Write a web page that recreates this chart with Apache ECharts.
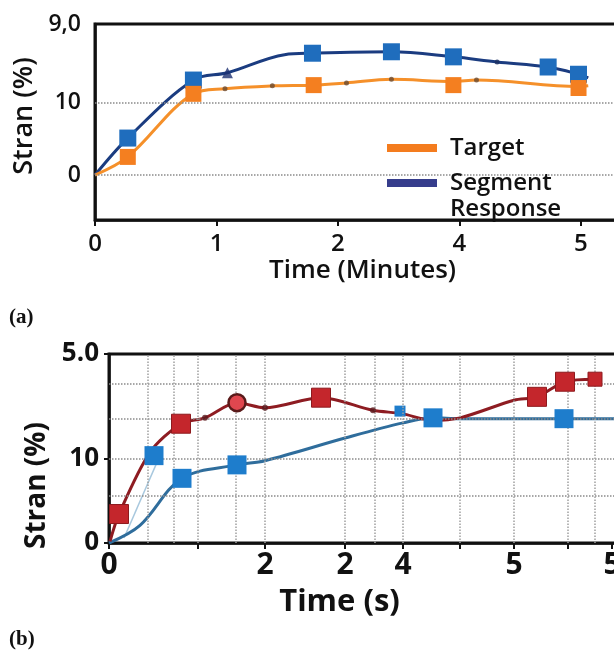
<!DOCTYPE html>
<html>
<head>
<meta charset="utf-8">
<script src="https://cdn.jsdelivr.net/npm/echarts@6/dist/echarts.min.js"></script>
<style>
html,body{margin:0;padding:0;background:#fff;overflow:hidden;width:614px;height:656px;}
#c{width:640px;height:656px;}
</style>
</head>
<body>
<div id="c"></div>
<script>
// ---------- Panel (a) ----------
const aXTickVals = [0, 1, 2, 3, 4];
const aXTickLabels = ['0', '1', '2', '4', '5'];
const aYTickVals = [0, 10, 20.83];
const aYTickLabels = ['0', '10', '9,0'];
const aGridY = [0, 10];

const aSegmentLine = [[0,0],[0.27,5.1],[0.81,13.1],[1.09,14.1],[1.56,16.6],[1.79,16.8],[2.44,17.0],[2.95,16.3],[3.31,15.6],[3.73,14.9],[3.98,13.9],[4.06,13.4]];
const aSegmentSquares = [[0.27,5.1],[0.81,13.1],[1.79,16.8],[2.44,17.0],[2.95,16.3],[3.73,14.9],[3.98,13.9]];
const aSegmentStar = [[1.09,14.1]];
const aSegmentDots = [[3.31,15.6]];

const aTargetLine = [[0,0],[0.27,2.5],[0.81,11.2],[1.07,11.9],[1.46,12.3],[1.80,12.4],[2.07,12.7],[2.44,13.2],[2.95,12.9],[3.14,13.1],[3.98,12.2],[4.06,12.3]];
const aTargetSquares = [[0.27,2.5],[0.81,11.2],[1.80,12.4],[2.95,12.4],[3.98,12.0]];
const aTargetDots = [[1.07,11.9],[1.46,12.3],[2.07,12.7],[2.44,13.2],[3.14,13.1]];

// ---------- Panel (b) ----------
const bXTickVals = [0, 1.78, 3.12, 4.72, 5.88, 7.02, 8.10, 9.18, 10.06];
const bXTickLabels = ['0', '', '2', '2', '4', '', '5', '', '5'];
const bYTickVals = [0, 10, 22.5];
const bYTickLabels = ['0', '10', '5.0'];
const bGridY = [5.6, 10, 14.8, 19.0];
const bGridX = [0.78, 1.30, 1.78, 2.54, 3.12, 4.72, 5.32, 5.88, 7.02, 8.10, 9.18, 9.72];

const bRedLine = [[0.02,0.2],[0.2,3.45],[0.82,10.8],[1.44,14.2],[1.92,14.9],[2.56,16.7],[3.12,16.1],[4.24,17.3],[5.28,15.8],[5.86,15.4],[6.46,14.6],[7.02,14.9],[8.1,17.0],[8.56,17.4],[9.12,19.2],[9.72,19.5]];
const bRedSquares = [[0.2,3.45],[1.44,14.2],[4.24,17.3],[8.56,17.4],[9.12,19.2]];
const bRedSmallSquares = [[9.72,19.5]];
const bRedCircle = [[2.56,16.7]];
const bRedDots = [[1.92,14.9],[3.12,16.1],[5.28,15.8]];

const bBlueLine = [[0,0],[0.62,2.1],[1.46,7.7],[2.56,9.3],[3.12,9.8],[4.72,12.5],[5.88,14.3],[6.48,14.9],[7.02,14.8],[9.1,14.8],[10.6,14.8]];
const bBlueSquares = [[0.9,10.4],[1.46,7.7],[2.56,9.3],[6.48,14.9],[9.1,14.8]];
const bBlueSmallSquares = [[5.82,15.7]];
const bFaintLine = [[0.3,0.6],[0.96,9.6]];

const FONT = 'Open Sans';
const lab = (vals, labels) => (v) => {
  for (let i = 0; i < vals.length; i++) if (Math.abs(vals[i] - v) < 1e-6) return labels[i];
  return '';
};
const gridMark = (axisKey, vals, color) => ({
  silent: true, symbol: ['none','none'], label: {show:false},
  lineStyle: {type: 'dotted', color: color, width: 1.5},
  emphasis: {disabled: true},
  data: vals.map(v => ({[axisKey]: v}))
});
const axLine = {show: true, onZero: false, lineStyle: {color: '#111', width: 2.5}};
const legendText = {fontFamily: FONT, fontSize: 24, fontWeight: 600, color: '#111', lineHeight: 26, padding: [0, 0, 0, 8]};

const chart = echarts.init(document.getElementById('c'), null, {renderer: 'canvas'});
chart.setOption({
  animation: false,
  backgroundColor: '#fff',
  title: [
    {text: '(a)', left: 4, top: 302, textStyle: {fontFamily: 'Liberation Serif', fontWeight: 'bold', fontSize: 21, color: '#111'}},
    {text: '(b)', left: 4, top: 624, textStyle: {fontFamily: 'Liberation Serif', fontWeight: 'bold', fontSize: 21, color: '#111'}}
  ],
  graphic: [
    {type: 'rect', left: 374, top: 128, shape: {width: 216, height: 90}, style: {fill: '#fff'}, z: 5, silent: true}
  ],
  grid: [
    {left: 95, top: 24, right: 0, bottom: 436, show: true, borderColor: '#111', borderWidth: 3, backgroundColor: 'transparent'},
    {left: 109, top: 354, right: 0, bottom: 113, show: true, borderColor: '#111', borderWidth: 3, backgroundColor: 'transparent'}
  ],
  legend: [
    {orient: 'vertical', left: 387, top: 135, z: 10, padding: 0,
     itemWidth: 50, itemHeight: 8, icon: 'rect', data: ['Target'],
     textStyle: legendText},
    {orient: 'vertical', left: 387, top: 144, z: 10, padding: 0,
     itemWidth: 50, itemHeight: 8, icon: 'rect', data: ['Segment\nResponse'],
     formatter: (name) => ' \n' + name,
     textStyle: legendText}
  ],
  xAxis: [
    {gridIndex: 0, type: 'value', min: 0, max: 4.486,
     name: 'Time (Minutes)', nameLocation: 'middle', nameGap: 38,
     nameTextStyle: {fontFamily: FONT, fontSize: 26, fontWeight: 600, color: '#111', padding: [0, 10, 0, 0]},
     axisLine: axLine, splitLine: {show: false},
     axisTick: {show: true, customValues: aXTickVals, length: 6, lineStyle: {color: '#111', width: 2}},
     axisLabel: {customValues: aXTickVals, formatter: lab(aXTickVals, aXTickLabels), margin: 12,
       fontFamily: FONT, fontSize: 24, fontWeight: 600, color: '#111'}},
    {gridIndex: 1, type: 'value', min: 0, max: 10.62,
     name: 'Time (s)', nameLocation: 'middle', nameGap: 44,
     nameTextStyle: {fontFamily: FONT, fontSize: 31, fontWeight: 'bold', color: '#111', padding: [0, 70, 0, 0]},
     axisLine: axLine, splitLine: {show: false},
     axisTick: {show: true, customValues: bXTickVals, length: 6, lineStyle: {color: '#111', width: 2}},
     axisLabel: {customValues: bXTickVals, formatter: lab(bXTickVals, bXTickLabels), margin: 7,
       fontFamily: FONT, fontSize: 30, fontWeight: 'bold', color: '#111'}}
  ],
  yAxis: [
    {gridIndex: 0, type: 'value', min: -6.2, max: 20.83,
     name: 'Stran (%)', nameLocation: 'middle', nameGap: 50, nameRotate: 90,
     nameTextStyle: {fontFamily: FONT, fontSize: 27, fontWeight: 600, color: '#111', padding: [0, 0, 0, 12]},
     axisLine: axLine, splitLine: {show: false},
     axisTick: {show: false},
     axisLabel: {customValues: aYTickVals, formatter: lab(aYTickVals, aYTickLabels), margin: 14,
       fontFamily: FONT, fontSize: 23, fontWeight: 600, color: '#111'}},
    {gridIndex: 1, type: 'value', min: 0, max: 22.5,
     name: 'Stran (%)', nameLocation: 'middle', nameGap: 57, nameRotate: 90,
     nameTextStyle: {fontFamily: FONT, fontSize: 28, fontWeight: 'bold', color: '#111', padding: [0, 74, 0, 0]},
     axisLine: axLine, splitLine: {show: false},
     axisTick: {show: true, customValues: bYTickVals, length: 5, lineStyle: {color: '#111', width: 2}},
     axisLabel: {customValues: bYTickVals, formatter: lab(bYTickVals, bYTickLabels), margin: 10,
       fontFamily: FONT, fontSize: 26, fontWeight: 'bold', color: '#111'}}
  ],
  series: [
    // gridlines (a)
    {type: 'line', xAxisIndex: 0, yAxisIndex: 0, data: [], markLine: gridMark('yAxis', aGridY, '#8a8a8a'), z: 1},
    // gridlines (b)
    {type: 'line', xAxisIndex: 1, yAxisIndex: 1, data: [], markLine: gridMark('yAxis', bGridY, '#8a8a8a'), z: 1},
    {type: 'line', xAxisIndex: 1, yAxisIndex: 1, data: [], markLine: gridMark('xAxis', bGridX, '#a0a0a0'), z: 1},

    // ---- panel (a) ----
    {name: 'Segment\nResponse', type: 'line', xAxisIndex: 0, yAxisIndex: 0, data: aSegmentLine, smooth: 0.35,
     showSymbol: false, lineStyle: {color: '#1b3c80', width: 3}, itemStyle: {color: '#363d8c'}, z: 3},
    {name: 'Target', type: 'line', xAxisIndex: 0, yAxisIndex: 0, data: aTargetLine, smooth: 0.35,
     showSymbol: false, lineStyle: {color: '#f5902a', width: 3}, itemStyle: {color: '#f47c1e'}, z: 4},
    {type: 'scatter', xAxisIndex: 0, yAxisIndex: 0, data: aSegmentSquares, symbol: 'rect', symbolSize: 17,
     itemStyle: {color: '#1f6dbd', opacity: 1}, z: 5},
    {type: 'scatter', xAxisIndex: 0, yAxisIndex: 0, data: aTargetSquares, symbol: 'rect', symbolSize: 16,
     itemStyle: {color: '#f47f20', opacity: 1}, z: 6},
    {type: 'scatter', xAxisIndex: 0, yAxisIndex: 0, data: aSegmentStar, symbol: 'triangle', symbolSize: 11,
     itemStyle: {color: '#1b2f70'}, z: 6},
    {type: 'scatter', xAxisIndex: 0, yAxisIndex: 0, data: aSegmentDots, symbol: 'circle', symbolSize: 5,
     itemStyle: {color: '#1b2f60'}, z: 6},
    {type: 'scatter', xAxisIndex: 0, yAxisIndex: 0, data: aTargetDots, symbol: 'circle', symbolSize: 5,
     itemStyle: {color: '#6a4a30'}, z: 6},

    // ---- panel (b) ----
    {type: 'line', xAxisIndex: 1, yAxisIndex: 1, data: bFaintLine, showSymbol: false,
     lineStyle: {color: '#a8c8de', width: 1.5}, z: 2},
    {type: 'line', xAxisIndex: 1, yAxisIndex: 1, data: bBlueLine, smooth: 0.35, showSymbol: false,
     lineStyle: {color: '#2f6d9c', width: 3}, z: 3},
    {type: 'line', xAxisIndex: 1, yAxisIndex: 1, data: bRedLine, smooth: 0.3, showSymbol: false,
     lineStyle: {color: '#8e1c22', width: 3}, z: 4},
    {type: 'scatter', xAxisIndex: 1, yAxisIndex: 1, data: bRedSquares, symbol: 'rect', symbolSize: 19,
     itemStyle: {color: '#c4262c', borderColor: '#8e1a1e', borderWidth: 1, opacity: 1}, z: 5},
    {type: 'scatter', xAxisIndex: 1, yAxisIndex: 1, data: bRedSmallSquares, symbol: 'rect', symbolSize: 14,
     itemStyle: {color: '#c4262c', borderColor: '#8e1a1e', borderWidth: 1, opacity: 1}, z: 5},
    {type: 'scatter', xAxisIndex: 1, yAxisIndex: 1, data: bRedCircle, symbol: 'circle', symbolSize: 17,
     itemStyle: {color: '#e0474f', borderColor: '#5a1a1a', borderWidth: 2.5, opacity: 1}, z: 6},
    {type: 'scatter', xAxisIndex: 1, yAxisIndex: 1, data: bRedDots, symbol: 'circle', symbolSize: 6,
     itemStyle: {color: '#5a1a1e'}, z: 6},
    {type: 'scatter', xAxisIndex: 1, yAxisIndex: 1, data: bBlueSquares, symbol: 'rect', symbolSize: 19,
     itemStyle: {color: '#1e7dcc', opacity: 1}, z: 7},
    {type: 'scatter', xAxisIndex: 1, yAxisIndex: 1, data: bBlueSmallSquares, symbol: 'rect', symbolSize: 11,
     itemStyle: {color: '#1e7dcc', opacity: 1}, z: 4}
  ]
});
</script>
</body>
</html>
